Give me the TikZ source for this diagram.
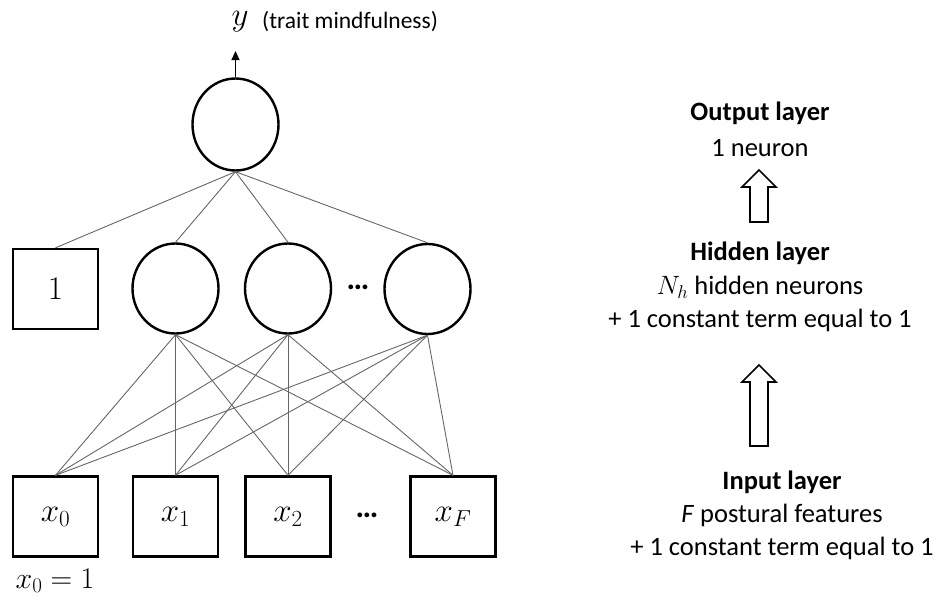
\documentclass[tikz,border=0pt]{standalone}
\usepackage{fix-cm}
\usepackage{fontspec}
\setmainfont{Carlito}
\usetikzlibrary{shapes.geometric,arrows.meta}
\begin{document}
\begin{tikzpicture}[x=1pt,y=-1pt,
  neuron/.style={ellipse,draw,line width=2.4pt,minimum width=86pt,minimum height=90pt,inner sep=0pt},
  unit/.style={rectangle,draw,line width=2.4pt,minimum width=85pt,minimum height=80pt,inner sep=0pt,font=\fontsize{33}{38}\selectfont},
  conn/.style={draw=black!60,line width=0.9pt},
  lbl/.style={font=\fontsize{26.5}{32}\selectfont,inner sep=0pt},
  dotslbl/.style={font=\fontsize{32}{34}\selectfont\bfseries,inner sep=0pt},
  blockarrow/.style={draw,line width=1.6pt,line join=miter,fill=white}]
\useasboundingbox (0,0) rectangle (946,603);
% output layer
\node[neuron,minimum height=92pt] (out) at (235.5,124.5) {};
\coordinate (ytip) at (235.5,51);
\draw[line width=1pt,-{Triangle[length=9pt,width=8pt]}] (out.north) -- (ytip);
\node[inner sep=0pt,font=\fontsize{33}{38}\selectfont] (ylab) at (240,22) {$y$};
\node[inner sep=0pt,anchor=west,font=\fontsize{23.5}{28}\selectfont] (ytxt) at (262,22) {(trait mindfulness)};
% hidden layer
\node[unit] (b1) at (55.5,289) {$1$};
\node[neuron] (h1) at (175.5,288.5) {};
\node[neuron] (h2) at (288,288.5) {};
\node[neuron] (h3) at (427.5,289) {};
\node[dotslbl] (hd) at (358,287) {…};
% input layer
\node[unit] (x0) at (55.5,516.5) {$x_0$};
\node[unit] (x1) at (175.5,516.5) {$x_1$};
\node[unit] (x2) at (288,516.5) {$x_2$};
\node[unit] (xF) at (453,516.5) {$x_F$};
\node[dotslbl] (xd) at (367,515) {…};
\node[inner sep=0pt,font=\fontsize{30}{36}\selectfont] (x0eq) at (55,581) {$x_0=1$};
% connectors output-hidden
\foreach \t in {b1,h1,h2,h3} \draw[conn] (out.south) -- (\t.north);
% connectors hidden-input
\foreach \s in {h1,h2,h3} \foreach \t in {x0,x1,x2,xF} \draw[conn] (\s.south) -- (\t.north);
% right side text
\node[lbl] (ol) at (760,113) {\textbf{Output layer}};
\node[lbl] (on) at (760,148) {1 neuron};
\draw[blockarrow] (750,222) -- (750,187) -- (742,187) -- (759,170) -- (776,187) -- (768,187) -- (768,222) -- cycle;
\node[lbl] (hl) at (760,253) {\textbf{Hidden layer}};
\node[lbl] (hn) at (760,287) {$N_h$ hidden neurons};
\node[lbl] (hc) at (760,320) {+ 1 constant term equal to 1};
\draw[blockarrow] (750,446) -- (750,382) -- (742,382) -- (759,365) -- (776,382) -- (768,382) -- (768,446) -- cycle;
\node[lbl] (il) at (782,482) {\textbf{Input layer}};
\node[lbl] (if) at (782,515) {\textit{F} postural features};
\node[lbl] (ic) at (782,548) {+ 1 constant term equal to 1};
\end{tikzpicture}
\end{document}
